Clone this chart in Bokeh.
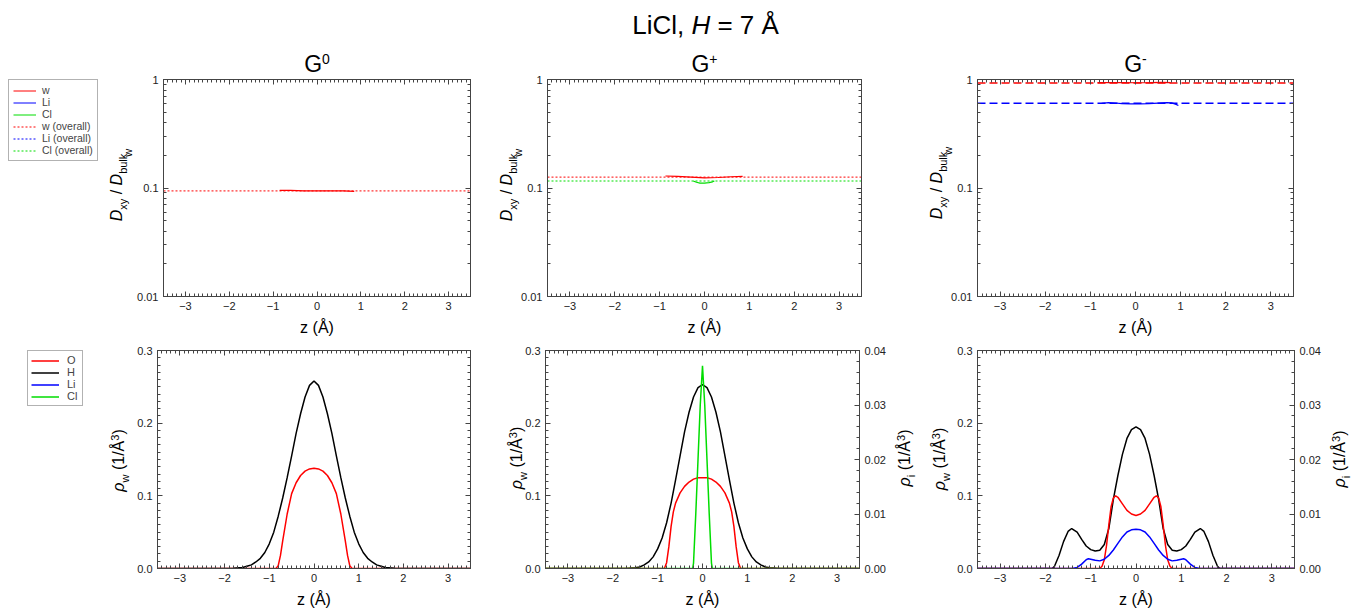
import math
from bokeh.plotting import figure
from bokeh.models import (Range1d, LinearAxis, LogAxis, FixedTicker, CustomJSTickFormatter,
                          NumeralTickFormatter, Label, Legend, LegendItem, GridBox)
from bokeh.layouts import row, column
from bokeh.embed import file_html
from bokeh.resources import INLINE

FONT = "Liberation Sans"
W_PAGE, H_PAGE = 1361, 615

# ---------------- data ----------------
x_ticks = [-3, -2, -1, 0, 1, 2, 3]
log_ticks = [0.01, 0.1, 1]
rho_w_ticks = [0.0, 0.1, 0.2, 0.3]
rho_i_ticks = [0.0, 0.01, 0.02, 0.03, 0.04]

g0_w_z = [-0.85, -0.6, -0.3, 0.0, 0.3, 0.6, 0.85]
g0_w_D = [0.095, 0.095, 0.094, 0.094, 0.094, 0.094, 0.093]
g0_w_overall = 0.094

gp_w_z = [-0.87, -0.6, -0.3, 0.0, 0.3, 0.6, 0.85]
gp_w_D = [0.129, 0.128, 0.126, 0.124, 0.125, 0.127, 0.128]
gp_w_overall = 0.126
gp_cl_z = [-0.25, -0.18, -0.1, 0.0, 0.1, 0.18, 0.22]
gp_cl_D = [0.116, 0.113, 0.111, 0.111, 0.112, 0.114, 0.116]
gp_cl_overall = 0.116

gm_w_z = [-0.84, -0.6, -0.3, 0.0, 0.3, 0.6, 0.78]
gm_w_D = [0.935, 0.938, 0.935, 0.933, 0.935, 0.94, 0.935]
gm_w_overall = 0.928
gm_li_z = [-0.75, -0.6, -0.45, -0.3, -0.1, 0.1, 0.3, 0.5, 0.7, 0.8, 0.9, 0.95]
gm_li_D = [0.603, 0.612, 0.607, 0.600, 0.597, 0.597, 0.600, 0.606, 0.612, 0.608, 0.590, 0.575]
gm_li_overall = 0.603

g0_H_z = [-3.5, -2.0, -1.8, -1.6, -1.5, -1.4, -1.3, -1.2, -1.1, -1.0, -0.9, -0.8, -0.7, -0.6, -0.5,
          -0.4, -0.3, -0.2, -0.1, 0.0, 0.1, 0.2, 0.3, 0.4, 0.5, 0.6, 0.7, 0.8, 0.9, 1.0, 1.1, 1.2,
          1.3, 1.4, 1.5, 1.6, 1.8, 2.0, 3.5]
g0_H = [0.0, 0.0, 0.0005, 0.0015, 0.003, 0.005, 0.009, 0.014, 0.022, 0.034, 0.050, 0.072, 0.097,
        0.125, 0.155, 0.186, 0.213, 0.236, 0.252, 0.258, 0.252, 0.236, 0.213, 0.186, 0.155, 0.125,
        0.097, 0.072, 0.050, 0.034, 0.022, 0.014, 0.009, 0.005, 0.003, 0.0015, 0.0005, 0.0, 0.0]
g0_O_z = [-3.5, -0.85, -0.8, -0.75, -0.7, -0.6, -0.5, -0.4, -0.3, -0.2, -0.1, 0.0, 0.1, 0.2, 0.3,
          0.4, 0.5, 0.6, 0.7, 0.75, 0.8, 0.85, 3.5]
g0_O = [0.0, 0.0, 0.004, 0.018, 0.038, 0.075, 0.103, 0.118, 0.128, 0.134, 0.137, 0.138, 0.137,
        0.134, 0.128, 0.118, 0.103, 0.075, 0.038, 0.018, 0.004, 0.0, 0.0]

gp_H_z = [-3.5, -1.7, -1.5, -1.4, -1.3, -1.2, -1.1, -1.0, -0.9, -0.8, -0.7, -0.6, -0.5, -0.4, -0.3,
          -0.2, -0.1, 0.0, 0.1, 0.2, 0.3, 0.4, 0.5, 0.6, 0.7, 0.8, 0.9, 1.0, 1.1, 1.2, 1.3, 1.4,
          1.5, 1.7, 3.5]
gp_H = [0.0, 0.0, 0.001, 0.002, 0.005, 0.009, 0.016, 0.027, 0.042, 0.063, 0.090, 0.122, 0.155,
        0.188, 0.215, 0.236, 0.249, 0.253, 0.249, 0.236, 0.215, 0.188, 0.155, 0.122, 0.090, 0.063,
        0.042, 0.027, 0.016, 0.009, 0.005, 0.002, 0.001, 0.0, 0.0]
gp_O_z = [-3.5, -0.85, -0.8, -0.75, -0.7, -0.65, -0.6, -0.5, -0.4, -0.3, -0.2, -0.1, 0.0, 0.1, 0.2,
          0.3, 0.4, 0.5, 0.6, 0.65, 0.7, 0.75, 0.8, 0.85, 3.5]
gp_O = [0.0, 0.0, 0.008, 0.030, 0.058, 0.078, 0.090, 0.104, 0.113, 0.119, 0.123, 0.125, 0.125,
        0.125, 0.123, 0.119, 0.113, 0.104, 0.090, 0.078, 0.058, 0.030, 0.008, 0.0, 0.0]
gp_Cl_z = [-3.5, -0.22, -0.2, -0.15, -0.1, -0.05, 0.0, 0.05, 0.1, 0.15, 0.2, 0.22, 3.5]
gp_Cl = [0.0, 0.0, 0.001, 0.010, 0.020, 0.030, 0.0372, 0.030, 0.020, 0.010, 0.001, 0.0, 0.0]

gm_H_z = [-3.5, -1.9, -1.85, -1.8, -1.7, -1.6, -1.5, -1.42, -1.3, -1.2, -1.1, -1.0, -0.9, -0.8,
          -0.7, -0.6, -0.5, -0.4, -0.3, -0.2, -0.1, 0.0, 0.1, 0.2, 0.3, 0.4, 0.5, 0.6, 0.7, 0.8,
          0.9, 1.0, 1.1, 1.2, 1.3, 1.42, 1.5, 1.6, 1.7, 1.8, 1.85, 1.9, 3.5]
gm_H = [0.0, 0.0, 0.0, 0.003, 0.018, 0.037, 0.051, 0.055, 0.050, 0.040, 0.031, 0.026, 0.024, 0.025,
        0.033, 0.055, 0.095, 0.128, 0.157, 0.179, 0.191, 0.195, 0.191, 0.179, 0.157, 0.128, 0.095,
        0.055, 0.033, 0.025, 0.024, 0.026, 0.031, 0.040, 0.050, 0.055, 0.051, 0.037, 0.018, 0.003,
        0.0, 0.0, 0.0]
gm_O_z = [-3.5, -0.8, -0.75, -0.7, -0.65, -0.6, -0.55, -0.5, -0.45, -0.4, -0.3, -0.2, -0.1, 0.0,
          0.1, 0.2, 0.3, 0.4, 0.45, 0.5, 0.55, 0.6, 0.65, 0.7, 0.75, 0.8, 3.5]
gm_O = [0.0, 0.0, 0.003, 0.012, 0.032, 0.060, 0.085, 0.097, 0.100, 0.098, 0.089, 0.080, 0.075,
        0.073, 0.075, 0.080, 0.089, 0.098, 0.100, 0.097, 0.085, 0.060, 0.032, 0.012, 0.003, 0.0, 0.0]
gm_Li_z = [-3.5, -1.4, -1.3, -1.2, -1.1, -1.05, -1.0, -0.9, -0.8, -0.7, -0.6, -0.5, -0.4, -0.3,
           -0.2, -0.1, 0.0, 0.1, 0.2, 0.3, 0.4, 0.5, 0.6, 0.7, 0.8, 0.9, 1.0, 1.05, 1.1, 1.2, 1.3,
           1.4, 3.5]
gm_Li = [0.0, 0.0, 0.0002, 0.0008, 0.0016, 0.0018, 0.0017, 0.0015, 0.0014, 0.0017, 0.0024, 0.0034,
         0.0046, 0.0058, 0.0067, 0.0071, 0.0072, 0.0071, 0.0067, 0.0058, 0.0046, 0.0034, 0.0024,
         0.0017, 0.0014, 0.0015, 0.0017, 0.0018, 0.0016, 0.0008, 0.0002, 0.0, 0.0]

RED, BLUE, GREEN, BLACK = "#ff0000", "#0000ff", "#00dd00", "#000000"
AX = "#444444"

CW = {' ': .278, '(': .333, ')': .333, '/': .278, '=': .584, ',': .278, '-': .333, '+': .584,
      'A': .667, 'Å': .667, 'C': .722, 'D': .722, 'G': .778, 'H': .722, 'L': .556, 'O': .778,
      'b': .556, 'i': .222, 'k': .5, 'l': .222, 'u': .556, 'w': .722, 'x': .5, 'y': .5, 'z': .5,
      'ρ': .578}
BASE_K = 0.35  # empirical offset between requested and drawn baseline (fraction of font size)


def tw(s, size):
    return sum(CW.get(c, .556) for c in s) * size


# transparent overlay figure that carries every free-standing text
ov = figure(width=W_PAGE, height=H_PAGE, x_axis_type=None, y_axis_type=None, toolbar_location=None,
            output_backend="svg", min_border=0, min_border_left=0, min_border_right=0,
            min_border_top=0, min_border_bottom=0, x_range=Range1d(0, 1), y_range=Range1d(0, 1))
ov.outline_line_color = None
ov.background_fill_color = None
ov.border_fill_color = None
ov.xgrid.visible = False
ov.ygrid.visible = False


def add_text(x_abs, y_abs, t, size, style, angle=0.0):
    if angle == 0.0:
        y_abs = y_abs - BASE_K * size
    else:
        x_abs = x_abs - BASE_K * size
    ov.add_layout(Label(x=x_abs, y=H_PAGE - y_abs, x_units="screen", y_units="screen", text=t,
                        angle=angle, text_font=FONT, text_font_size=f"{size}px",
                        text_font_style=style, text_align="left", text_baseline="alphabetic",
                        text_color="black"))


def hlabel(xc_abs, base_abs, pieces):
    total = sum(tw(t, s) for t, s, _, _ in pieces)
    x = xc_abs - total / 2.0
    for t, s, st, dy in pieces:
        x += (len(t) - len(t.lstrip(' '))) * CW[' '] * s
        core = t.strip(' ')
        add_text(x, base_abs - dy, core, s, st)
        x += tw(core, s) + (len(t) - len(t.rstrip(' '))) * CW[' '] * s


def vlabel(xb_abs, yc_abs, pieces):
    total = sum(tw(t, s) for t, s, _, _ in pieces)
    y = yc_abs + total / 2.0
    for t, s, st, dx in pieces:
        y -= (len(t) - len(t.lstrip(' '))) * CW[' '] * s
        core = t.strip(' ')
        add_text(xb_abs + dx, y, core, s, st, angle=math.pi / 2)
        y -= tw(core, s) + (len(t) - len(t.rstrip(' '))) * CW[' '] * s
    return y


def style_axis(ax, labels=True):
    ax.major_tick_in = 5
    ax.major_tick_out = 0
    ax.minor_tick_in = 3
    ax.minor_tick_out = 0
    ax.axis_line_color = AX
    ax.major_tick_line_color = AX
    ax.minor_tick_line_color = AX
    ax.major_label_text_font = FONT
    ax.major_label_text_font_size = "11px"
    ax.major_label_text_color = "#222222"
    ax.major_label_standoff = 5
    if not labels:
        ax.formatter = CustomJSTickFormatter(code="return ''")
        ax.major_label_text_color = None


x_minor = [round(-3.5 + 0.1 * i, 2) for i in range(71)]
log_minor = [k * 10.0 ** e for e in (-2, -1) for k in range(2, 10)]
w_minor = [round(0.01 * i, 3) for i in range(31)]
i_minor = [round(0.002 * i, 4) for i in range(21)]


def xticker():
    return FixedTicker(ticks=x_ticks, minor_ticks=x_minor)


def panel(col_x0, col_w, row_y0, row_h, fr, log=False, ions=False):
    fl, fr_r, ft, fb = fr
    kw = dict(width=col_w, height=row_h, toolbar_location=None, output_backend="svg",
              min_border_left=fl - col_x0, min_border_right=col_x0 + col_w - fr_r,
              min_border_top=ft - row_y0, min_border_bottom=row_y0 + row_h - fb,
              x_range=Range1d(-3.5, 3.5))
    if log:
        p = figure(y_axis_type="log", y_range=Range1d(0.01, 1), **kw)
        yt = lambda: FixedTicker(ticks=log_ticks, minor_ticks=log_minor)
    else:
        p = figure(y_range=Range1d(0, 0.3), **kw)
        yt = lambda: FixedTicker(ticks=rho_w_ticks, minor_ticks=w_minor)
    p.xgrid.visible = False
    p.ygrid.visible = False
    p.outline_line_color = AX
    xa = p.xaxis[0]
    xa.ticker = xticker()
    style_axis(xa)
    ya = p.yaxis[0]
    ya.ticker = yt()
    if log:
        ya.formatter = CustomJSTickFormatter(code="return tick.toString()")
    else:
        ya.formatter = NumeralTickFormatter(format="0.0")
    style_axis(ya)
    top = LinearAxis(ticker=xticker())
    style_axis(top, labels=False)
    p.add_layout(top, "above")
    if ions:
        p.extra_y_ranges = {"ions": Range1d(0, 0.04)}
        ra = LinearAxis(y_range_name="ions", ticker=FixedTicker(ticks=rho_i_ticks, minor_ticks=i_minor),
                        formatter=NumeralTickFormatter(format="0.00"))
        style_axis(ra)
    elif log:
        ra = LogAxis(ticker=yt())
        style_axis(ra, labels=False)
    else:
        ra = LinearAxis(ticker=yt())
        style_axis(ra, labels=False)
    p.add_layout(ra, "right")
    return p


def hline(p, val, color, dash, width=1.0):
    p.line(x=[-3.5, 3.5], y=[val, val], line_color=color, line_dash=dash, line_width=width)


COLX = [0, 100, 500, 930]
COLW = [100, 400, 430, 431]
TY, TH = 0, 340
BY, BH = 340, 275
FT = [(163, 470, 78, 296), (547, 861, 78, 296), (977, 1293, 74, 296)]
FB = [(157, 470, 350, 570), (545, 859, 347, 568), (977, 1294, 347, 570)]

DOT = "2 2"
DASH = "8 4"

t1 = panel(COLX[1], COLW[1], TY, TH, FT[0], log=True)
hline(t1, g0_w_overall, RED, DOT)
t1.line(g0_w_z, g0_w_D, line_color=RED, line_width=1.2)

t2 = panel(COLX[2], COLW[2], TY, TH, FT[1], log=True)
hline(t2, gp_w_overall, RED, DOT)
hline(t2, gp_cl_overall, GREEN, DOT)
t2.line(gp_w_z, gp_w_D, line_color=RED, line_width=1.2)
t2.line(gp_cl_z, gp_cl_D, line_color=GREEN, line_width=1.2)

t3 = panel(COLX[3], COLW[3], TY, TH, FT[2], log=True)
hline(t3, gm_w_overall, RED, DASH, 1.5)
hline(t3, gm_li_overall, BLUE, DASH, 1.5)
t3.line(gm_w_z, gm_w_D, line_color=RED, line_width=1.2)
t3.line(gm_li_z, gm_li_D, line_color=BLUE, line_width=1.2)

b1 = panel(COLX[1], COLW[1], BY, BH, FB[0])
b1.line(g0_O_z, g0_O, line_color=RED, line_width=1.5)
b1.line(g0_H_z, g0_H, line_color=BLACK, line_width=1.5)

b2 = panel(COLX[2], COLW[2], BY, BH, FB[1], ions=True)
b2.line(gp_H_z, gp_H, line_color=BLACK, line_width=1.5)
b2.line(gp_O_z, gp_O, line_color=RED, line_width=1.5)
b2.line(gp_Cl_z, gp_Cl, line_color=GREEN, line_width=1.5, y_range_name="ions")

b3 = panel(COLX[3], COLW[3], BY, BH, FB[2], ions=True)
b3.line(gm_H_z, gm_H, line_color=BLACK, line_width=1.5)
b3.line(gm_O_z, gm_O, line_color=RED, line_width=1.5)
b3.line(gm_Li_z, gm_Li, line_color=BLUE, line_width=1.5, y_range_name="ions")

# ---------------- texts (overlay) ----------------
hlabel(705, 34, [("LiCl, ", 26, "normal", 0), ("H", 26, "italic", 0), (" = 7 Å", 26, "normal", 0)])
for fr, sup in ((FT[0], "0"), (FT[1], "+"), (FT[2], "-")):
    hlabel((fr[0] + fr[1]) / 2.0, 72, [("G", 23, "normal", 0), (sup, 14, "normal", 9)])
    hlabel((fr[0] + fr[1]) / 2.0, 333, [("z (Å)", 16, "normal", 0)])
for fr in FB:
    hlabel((fr[0] + fr[1]) / 2.0, 605, [("z (Å)", 16, "normal", 0)])

for fr, xb in ((FT[0], 122), (FT[1], 512), (FT[2], 942)):
    yend = vlabel(xb, (fr[2] + fr[3]) / 2.0,
                  [("D", 16, "italic", 0), ("xy", 11, "normal", 4), (" / ", 16, "normal", 0),
                   ("D", 16, "italic", 0), ("bulk", 11, "normal", 4)])
    add_text(xb + 9, yend + 3, "w", 11, "normal", angle=math.pi / 2)

for fr, xb in ((FB[0], 124), (FB[1], 522), (FB[2], 945)):
    vlabel(xb, (fr[2] + fr[3]) / 2.0,
           [("ρ", 16, "italic", 0), ("w", 11, "normal", 4), (" (1/Å", 16, "normal", 0),
            ("3", 11, "normal", -6), (")", 16, "normal", 0)])
for fr, xb in ((FB[1], 910), (FB[2], 1345)):
    vlabel(xb, (fr[2] + fr[3]) / 2.0,
           [("ρ", 16, "italic", 0), ("i", 11, "normal", 4), (" (1/Å", 16, "normal", 0),
            ("3", 11, "normal", -6), (")", 16, "normal", 0)])


def legend_fig(w, h, mbl, mbt, entries, fsize, glyph_w, label_w, lh, standoff, pad):
    p = figure(width=w, height=h, x_axis_type=None, y_axis_type=None, toolbar_location=None,
               output_backend="svg", min_border_left=mbl, min_border_top=mbt,
               min_border_right=0, min_border_bottom=0,
               x_range=Range1d(10, 11), y_range=Range1d(10, 11))
    p.outline_line_color = None
    p.xgrid.visible = False
    p.ygrid.visible = False
    items = []
    for lab, col, dash, lw in entries:
        r = p.line(x=[0, 1], y=[0, 0], line_color=col, line_dash=dash, line_width=lw)
        items.append(LegendItem(label=lab, renderers=[r]))
    lg = Legend(items=items, location="top_left", margin=0, padding=pad, spacing=0,
                glyph_width=glyph_w, glyph_height=lh, label_height=lh, label_width=label_w,
                label_standoff=standoff, label_text_font=FONT, label_text_font_size=f"{fsize}px",
                border_line_color="#666666", background_fill_color="white",
                background_fill_alpha=1.0)
    p.add_layout(lg)
    return p


leg1 = legend_fig(COLW[0], TH, 8, 79,
                  [("w", RED, "solid", 1), ("Li", BLUE, "solid", 1), ("Cl", GREEN, "solid", 1),
                   ("w (overall)", RED, DOT, 1), ("Li (overall)", BLUE, DOT, 1),
                   ("Cl (overall)", GREEN, DOT, 1)], 10.5, 23, 50, 11, 6, 4)
leg2 = legend_fig(COLW[0], BH, 27, 10,
                  [("O", RED, "solid", 1.5), ("H", BLACK, "solid", 1.5), ("Li", BLUE, "solid", 1.5),
                   ("Cl", GREEN, "solid", 1.5)], 11, 28, 12, 11, 8, 3)

charts = column(row(leg1, t1, t2, t3), row(leg2, b1, b2, b3))
page = GridBox(children=[(charts, 0, 0), (ov, 0, 0)])
open("out.html", "w").write(file_html(page, INLINE))
